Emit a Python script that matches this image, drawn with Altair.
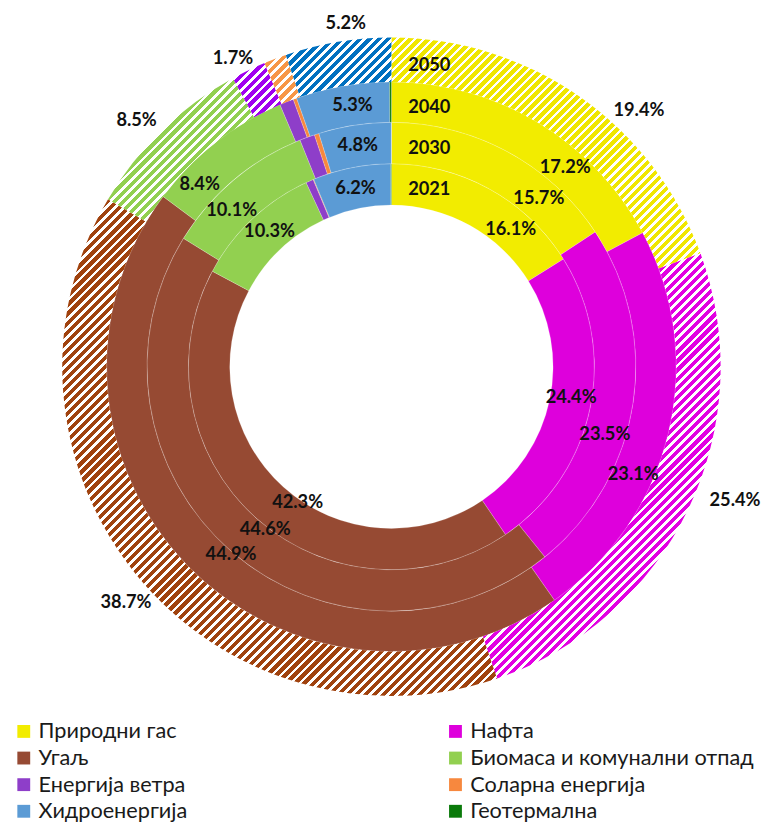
import math
import altair as alt
import pandas as pd

# ---------------- data ----------------
categories = ["Природни гас", "Нафта", "Угаљ", "Биомаса и комунални отпад",
              "Енергија ветра", "Соларна енергија", "Хидроенергија", "Геотермална"]
years = ["2021", "2030", "2040", "2050"]
share_2021 = [16.1, 24.4, 42.3, 10.3, 0.6, 0.05, 6.2, 0.05]
share_2030 = [15.7, 23.5, 44.6, 10.1, 1.0, 0.3, 4.8, 0.0]
share_2040 = [17.2, 23.1, 44.9, 8.4, 0.8, 0.2, 5.3, 0.1]
share_2050 = [19.4, 25.4, 38.7, 8.5, 1.7, 1.1, 5.2, 0.0]
shares = {"2021": share_2021, "2030": share_2030, "2040": share_2040, "2050": share_2050}

# ---------------- style ----------------
solid_colors = ["#F2EC00", "#DE00DC", "#964A33", "#92D050",
                "#8E3EC9", "#F7883E", "#5B9BD5", "#0A7A0A"]
hatch_colors = ["#F0E600", "#E200E2", "#A0420E", "#92D050",
                "#A000F0", "#F79646", "#0070C0", "#007000"]
legend_order = [0, 2, 4, 6, 1, 3, 5, 7]          # column-major legend -> rows read pairwise
ring_radii = {"2021": (164, 206), "2030": (206, 248), "2040": (248, 289), "2050": (289, 334)}
# label placement tweaks (angle shift in % of circle, radial shift in px)
label_shift = {
    "2021": [3.3, -0.6, -2.0, 0.4, 0.0, 0.0, 0.0, 0.0],
    "2030": [3.6, 2.4, -1.0, -1.5, 0.0, 0.0, 0.0, 0.0],
    "2040": [2.8, 2.9, -1.5, -2.3, 0.0, 0.0, 0.4, 0.0],
    "2050": [2.5, -1.2, -0.7, -0.5, -0.4, 0.0, 0.5, 0.0],
}
label_dr_inner = [0, 0, -18, 0, 0, 0, 0, 0]
label_dr_outer = [10, 22, 8, 8, 0, 0, 0, 0]
outer_label_radius = 352
stripe_period = 6.5
stripe_fill = 0.58
FONT = "Lato"

rows = []
for y in years:
    for i, c in enumerate(categories):
        rows.append({"year": y, "category": c, "idx": i, "value": shares[y][i],
                     "nudge": label_shift[y][i],
                     "dr": label_dr_outer[i] if y == "2050" else label_dr_inner[i]})
df = pd.DataFrame(rows)

theta_scale = alt.Scale(domain=[0, 100])

base = alt.Chart(df).transform_stack(
    stack="value", groupby=["year"], sort=[alt.SortField("idx", order="ascending")],
    as_=["v0", "v1"]
)

layers = []

# solid rings
for y in ["2021", "2030", "2040"]:
    ri, ro = ring_radii[y]
    layers.append(
        base.transform_filter(alt.datum.year == y)
        .mark_arc(radius=ro, radius2=ri, stroke="white", strokeWidth=0.4, strokeOpacity=0.5)
        .encode(
            theta=alt.Theta("v0:Q", scale=theta_scale),
            theta2="v1:Q",
            color=alt.Color(
                "category:N",
                scale=alt.Scale(domain=[categories[k] for k in legend_order],
                                range=[solid_colors[k] for k in legend_order]),
                legend=alt.Legend(
                    orient="none", legendX=-7, legendY=711, columns=2,
                    columnPadding=261, rowPadding=5, gridAlign="each",
                    symbolType="square", symbolSize=170, symbolStrokeWidth=0,
                    labelFont=FONT, labelFontSize=22, labelColor="#1a1a1a",
                    labelLimit=0, labelOffset=4, title=None, padding=0,
                ),
            ),
        )
    )


# hatched outer ring (2050): diagonal stripes via hard-stop linear gradients
def sector_bbox(a0, a1, ri, ro):
    pts = []
    for r in (ri, ro):
        for a in (a0, a1):
            pts.append((r * math.sin(a), -r * math.cos(a)))
    k = math.ceil(a0 / (math.pi / 2))
    while k * math.pi / 2 < a1:
        a = k * math.pi / 2
        pts.append((ro * math.sin(a), -ro * math.cos(a)))
        k += 1
    xs = [p[0] for p in pts]
    ys = [p[1] for p in pts]
    return max(xs) - min(xs), max(ys) - min(ys)


ri50, ro50 = ring_radii["2050"]
cum = 0.0
for i, c in enumerate(categories):
    v = share_2050[i]
    a0 = cum / 100 * 2 * math.pi
    a1 = (cum + v) / 100 * 2 * math.pi
    cum += v
    if v <= 0:
        continue
    W, H = sector_bbox(a0, a1, ri50, ro50)
    n = max(1, round((W + H) / (math.sqrt(2) * stripe_period)))
    stops = []
    for j in range(n):
        o0, o1, o2 = j / n, (j + stripe_fill) / n, (j + 1) / n
        stops += [{"offset": o0, "color": hatch_colors[i]},
                  {"offset": o1, "color": hatch_colors[i]},
                  {"offset": o1, "color": "#ffffff"},
                  {"offset": o2, "color": "#ffffff"}]
    grad = {"gradient": "linear", "stops": stops, "x1": 0, "y1": 0,
            "x2": W * (W + H) / (W * W + H * H), "y2": H * (W + H) / (W * W + H * H)}
    layers.append(
        base.transform_filter((alt.datum.year == "2050") & (alt.datum.category == c))
        .mark_arc(radius=ro50, radius2=ri50, fill=grad)
        .encode(theta=alt.Theta("v0:Q", scale=theta_scale), theta2="v1:Q")
    )

# percentage labels
for y in years:
    ri, ro = ring_radii[y]
    r_lab = (ri + ro) / 2 if y != "2050" else outer_label_radius
    layers.append(
        base.transform_filter((alt.datum.year == y) & (alt.datum.value >= 1.5))
        .transform_calculate(mid="(datum.v0 + datum.v1) / 2 + datum.nudge",
                             r=f"{r_lab} + datum.dr",
                             label="format(datum.value, '.1f') + '%'")
        .mark_text(font=FONT, fontSize=18.5, fontWeight="bold", color="#111111")
        .encode(theta=alt.Theta("mid:Q", scale=theta_scale),
                radius=alt.Radius("r:Q", scale=None),
                text="label:N")
    )

# year labels
year_df = pd.DataFrame({"year": years})
for y in years:
    ri, ro = ring_radii[y]
    layers.append(
        alt.Chart(year_df).transform_filter(alt.datum.year == y)
        .mark_text(radius=(ri + ro) / 2, theta=0, align="left", dx=17, dy=5,
                   font=FONT, fontSize=18.5, fontWeight="bold", color="#111111")
        .encode(text="year:N")
    )

chart = alt.layer(*layers).properties(
    width=754, height=704,
    padding={"left": 5, "top": 0, "right": 0, "bottom": 0},
).configure_view(stroke=None).configure(background="white")

chart.save("out.html", embed_options={"renderer": "svg", "actions": False})
